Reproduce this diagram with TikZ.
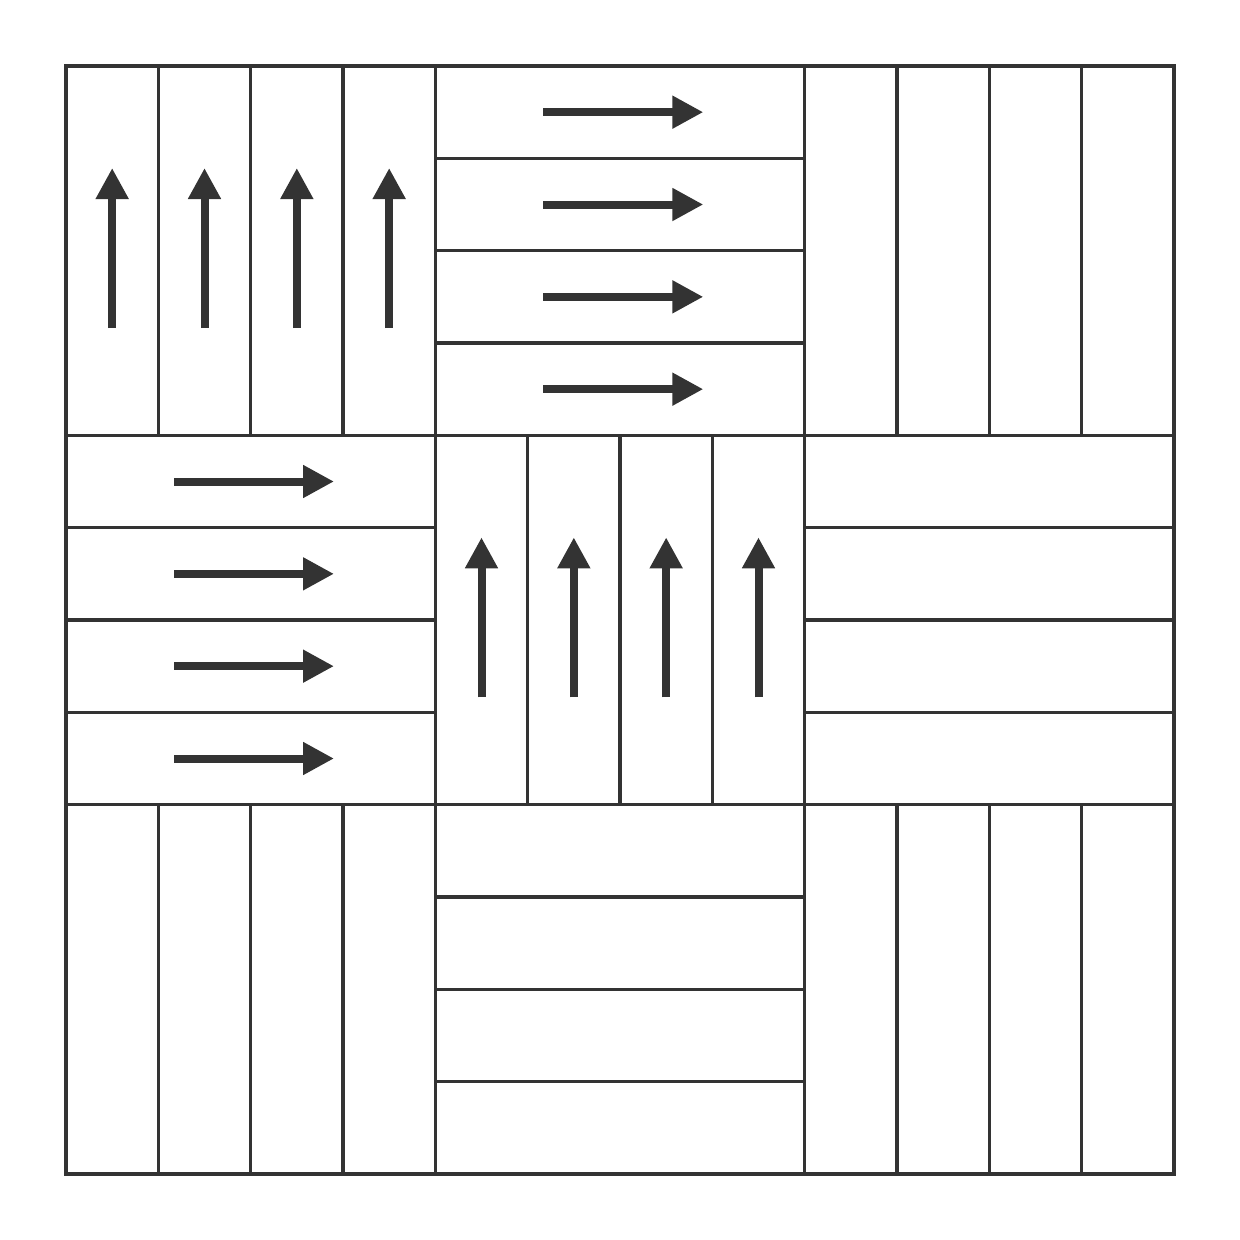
\documentclass[tikz,border=0pt]{standalone}
\usetikzlibrary{arrows.meta}
\definecolor{ink}{HTML}{333333}
\tikzset{
  gridline/.style={draw=ink, line width=3.5pt},
  frameline/.style={draw=ink, line width=4pt},
  flowarrow/.style={draw=ink, line width=8pt, -{Triangle[length=31pt,width=31pt]}},
}
\begin{document}
\begin{tikzpicture}[x=1pt,y=-1pt]
\useasboundingbox (0,0) rectangle (1240,1240);
\def\xo{66}
\def\bs{369.33}
\def\ss{92.333}
% strips
\foreach \r in {0,1,2}{
  \foreach \c in {0,1,2}{
    \pgfmathsetmacro{\bx}{\xo+\c*\bs}
    \pgfmathsetmacro{\by}{\xo+\r*\bs}
    \pgfmathtruncatemacro{\myparity}{mod(\r+\c,2)}
    \ifnum\myparity=0
      \foreach \k in {1,2,3}{
        \draw[gridline] ({\bx+\k*\ss},\by) -- ({\bx+\k*\ss},{\by+\bs});
      }
    \else
      \foreach \k in {1,2,3}{
        \draw[gridline] (\bx,{\by+\k*\ss}) -- ({\bx+\bs},{\by+\k*\ss});
      }
    \fi
  }
}
% block boundaries
\foreach \k in {1,2}{
  \draw[gridline] ({\xo+\k*\bs},\xo) -- ({\xo+\k*\bs},{\xo+3*\bs});
  \draw[gridline] (\xo,{\xo+\k*\bs}) -- ({\xo+3*\bs},{\xo+\k*\bs});
}
\draw[frameline] (\xo,\xo) rectangle ({\xo+3*\bs},{\xo+3*\bs});
% arrows: vertical blocks (0,0) and (1,1)
\foreach \bc/\br in {0/0,1/1}{
  \foreach \k in {0,1,2,3}{
    \pgfmathsetmacro{\ax}{\xo+\bc*\bs+(\k+0.5)*\ss}
    \pgfmathsetmacro{\ay}{\xo+\br*\bs}
    \coordinate (vs\bc\k) at (\ax,{\ay+262});
    \coordinate (ve\bc\k) at (\ax,{\ay+102});
    \draw[flowarrow] (vs\bc\k) -- (ve\bc\k);
  }
}
% arrows: horizontal blocks (row0,col1) and (row1,col0)
\foreach \bc/\br in {1/0,0/1}{
  \foreach \k in {0,1,2,3}{
    \pgfmathsetmacro{\ax}{\xo+\bc*\bs}
    \pgfmathsetmacro{\ay}{\xo+\br*\bs+(\k+0.5)*\ss}
    \coordinate (hs\bc\k) at ({\ax+108},\ay);
    \coordinate (he\bc\k) at ({\ax+268},\ay);
    \draw[flowarrow] (hs\bc\k) -- (he\bc\k);
  }
}
\end{tikzpicture}
\end{document}
